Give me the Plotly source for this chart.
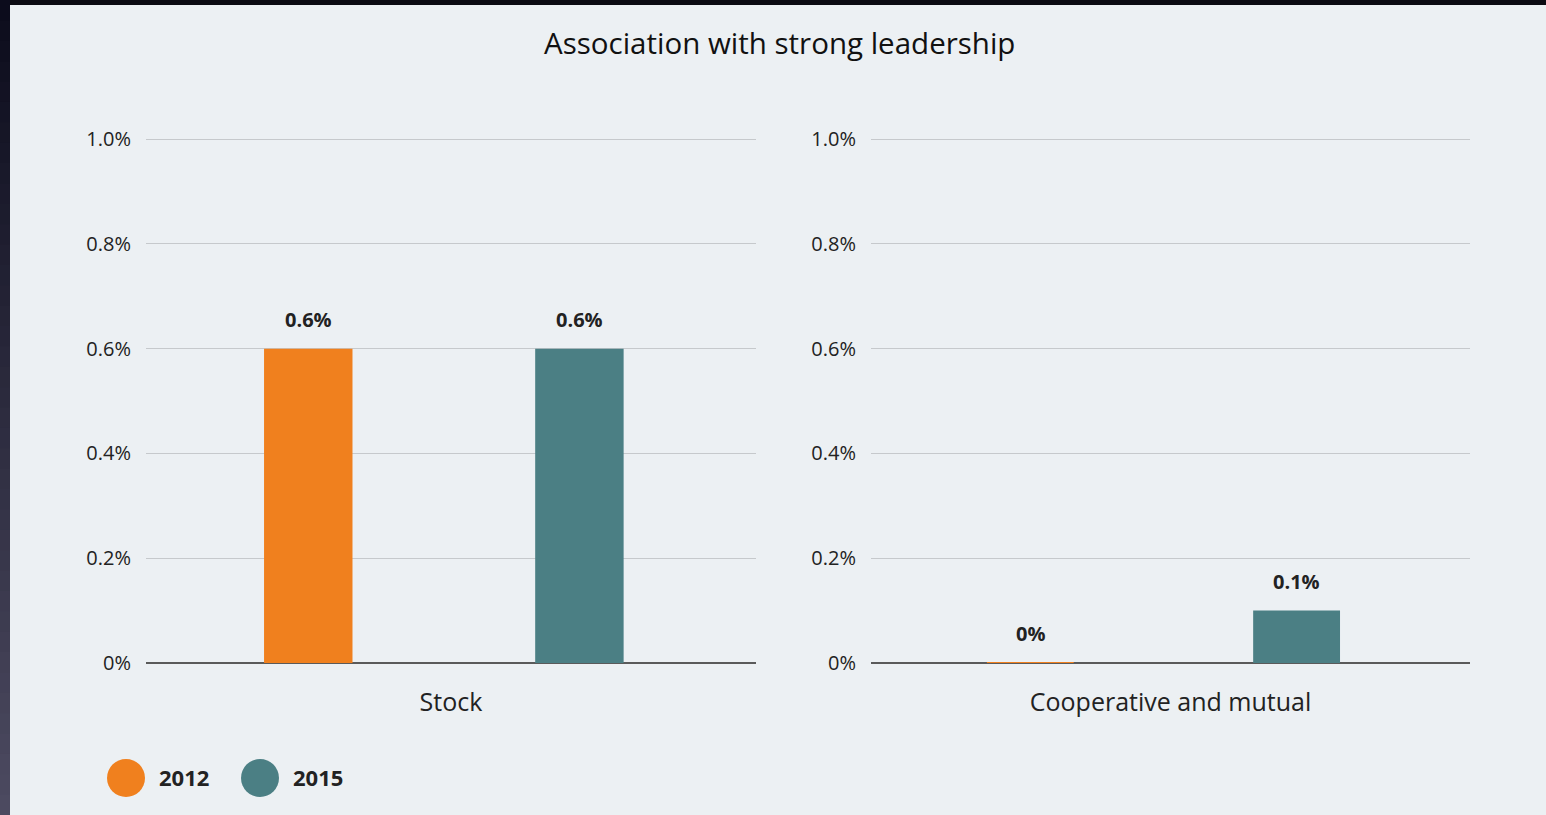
import plotly.graph_objects as go

# ---- data -------------------------------------------------------------
title = "Association with strong leadership"
categories = ["Stock", "Cooperative and mutual"]
years = ["2012", "2015"]
values_2012 = [0.6, 0.0]   # percent
values_2015 = [0.6, 0.1]   # percent
tick_vals = [0, 0.2, 0.4, 0.6, 0.8, 1.0]
tick_text = ["0%", "0.2%", "0.4%", "0.6%", "0.8%", "1.0%"]

# ---- style ------------------------------------------------------------
colors = {"2012": "#f0801e", "2015": "#4b7f84"}
BG = "#ecf0f3"
FONT = "Open Sans, Arial, sans-serif"
W, H = 1546, 815
ML, MR, MT, MB = 146, 76, 138, 152
PW, PH = W - ML - MR, H - MT - MB

# bar geometry within one category slot (category axis units)
BAR_WIDTH = 0.145
BAR_OFFSET = {"2012": -0.3065, "2015": 0.138}


def px_x(px):
    return (px - ML) / PW


def px_y(py):
    return (H - MB - py) / PH


def fmt(v):
    return f"{v:g}%"


series = {"2012": values_2012, "2015": values_2015}
fig = go.Figure()
for ci, cat in enumerate(categories):
    xa = "x" if ci == 0 else "x2"
    ya = "y" if ci == 0 else "y2"
    for yr in years:
        v = series[yr][ci]
        fig.add_trace(go.Bar(
            x=[cat], y=[v], name=yr, xaxis=xa, yaxis=ya,
            width=BAR_WIDTH, offset=BAR_OFFSET[yr],
            marker=dict(color=colors[yr],
                        line=dict(color=colors[yr], width=2 if v == 0 else 0)),
            showlegend=False, hovertemplate=f"{yr}: {fmt(v)}<extra></extra>",
        ))
        # value label above each bar
        fig.add_annotation(
            text=f"<b>{fmt(v)}</b>", xref=xa, yref=ya,
            x=BAR_OFFSET[yr] + BAR_WIDTH / 2, y=v,
            xanchor="center", yanchor="bottom", yshift=14, showarrow=False,
            font=dict(family=FONT, size=20, color="#222222"),
        )

xcommon = dict(showgrid=False, ticks="", showline=False, zeroline=False,
               tickfont=dict(family=FONT, size=25, color="#222222"),
               ticklabelstandoff=22, range=[-0.5, 0.5], fixedrange=True)
ycommon = dict(range=[0, 1.002], tickvals=tick_vals, ticktext=tick_text,
               showgrid=True, gridcolor="#c6c9cc", gridwidth=1,
               zeroline=True, zerolinecolor="#5a5a5a", zerolinewidth=2,
               showline=False, ticks="", ticklabelstandoff=14,
               tickfont=dict(family=FONT, size=20, color="#222222"),
               fixedrange=True)

fig.update_layout(
    width=W, height=H,
    margin=dict(l=ML, r=MR, t=MT, b=MB),
    paper_bgcolor=BG, plot_bgcolor=BG,
    barmode="overlay",
    xaxis=dict(domain=[0, px_x(756)], **xcommon),
    xaxis2=dict(domain=[px_x(871), 1], anchor="y2", **xcommon),
    yaxis=dict(anchor="x", **ycommon),
    yaxis2=dict(anchor="x2", **ycommon),
    showlegend=False,
)

# title
fig.add_annotation(text=title, xref="paper", yref="paper",
                   x=px_x(779.5), y=px_y(43), xanchor="center", yanchor="middle",
                   showarrow=False, font=dict(family=FONT, size=29.5, color="#111111"))

# legend: circles with year labels
legend_x = [126, 260]
for yr, cx in zip(years, legend_x):
    r = 19
    fig.add_shape(type="circle", xref="paper", yref="paper",
                  x0=px_x(cx - r), x1=px_x(cx + r), y0=px_y(778 + r), y1=px_y(778 - r),
                  fillcolor=colors[yr], line=dict(width=0))
    fig.add_annotation(text=f"<b>{yr}</b>", xref="paper", yref="paper",
                       x=px_x(cx + 31), y=px_y(777), xanchor="left", yanchor="middle",
                       showarrow=False, font=dict(family=FONT, size=22, color="#222222"))

# dark frame along the top and left edges (vertical gradient on the left)
fig.add_shape(type="rect", xref="paper", yref="paper", layer="above",
              x0=px_x(0), x1=px_x(W), y0=px_y(5), y1=px_y(0),
              fillcolor="#0b0b12", line=dict(width=0))
top_rgb, bot_rgb = (12, 12, 28), (76, 74, 96)
n_bands = 40
band = H / n_bands
for i in range(n_bands):
    t = i / (n_bands - 1)
    c = tuple(round(a + (b - a) * t) for a, b in zip(top_rgb, bot_rgb))
    fig.add_shape(type="rect", xref="paper", yref="paper", layer="above",
                  x0=px_x(0), x1=px_x(10),
                  y0=px_y(min(H, (i + 1) * band + 1)), y1=px_y(i * band),
                  fillcolor=f"rgb{c}", line=dict(width=0))

fig.write_html("out.html")
